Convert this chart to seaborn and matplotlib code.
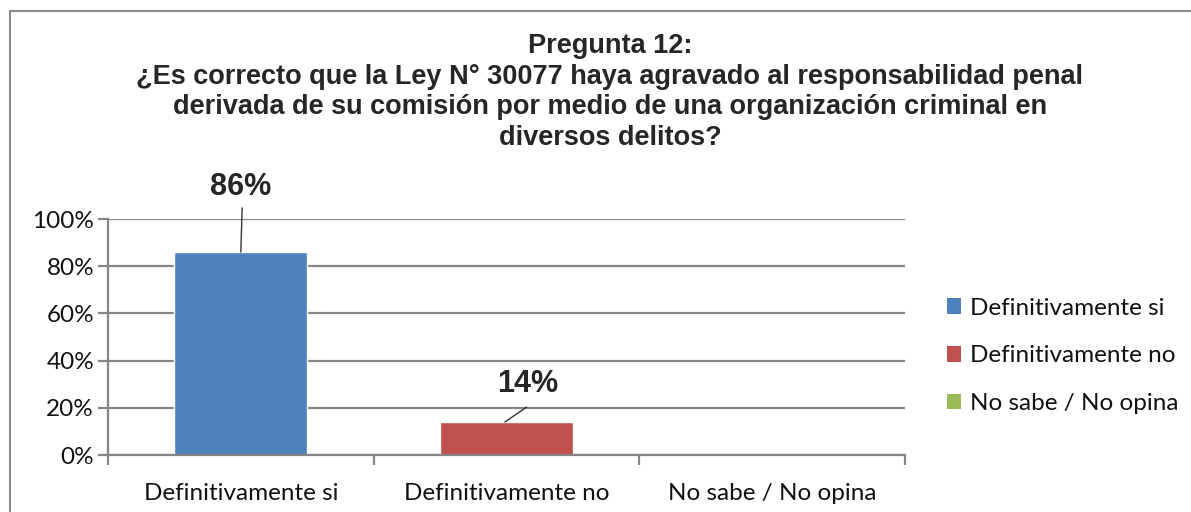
import matplotlib
matplotlib.use("Agg")
import matplotlib.pyplot as plt
import seaborn as sns
import pandas as pd
from matplotlib.lines import Line2D
from matplotlib.patches import Patch
from matplotlib.ticker import PercentFormatter

categories = ["Definitivamente si", "Definitivamente no", "No sabe / No opina"]
values = [0.86, 0.14, 0.0]
value_labels = ["86%", "14%", ""]
colors = ["#4F81BD", "#C0504D", "#9BBB59"]
yticks = [0, 0.2, 0.4, 0.6, 0.8, 1.0]
title = ("Pregunta 12:\n¿Es correcto que la Ley N° 30077 haya agravado al responsabilidad penal\n"
         "derivada de su comisión por medio de una organización criminal en\ndiversos delitos?")

sns.set_theme(style="white")
plt.rcParams["font.family"] = ["Lato", "DejaVu Sans"]

df = pd.DataFrame({"cat": categories, "val": values})

fig = plt.figure(figsize=(11.91, 5.12), dpi=100)
ax = fig.add_axes([108/1191, 1-455/512, (905-108)/1191, (455-219)/512])

sns.barplot(data=df, x="cat", y="val", hue="cat", palette=colors, width=0.5,
            dodge=False, legend=False, ax=ax, saturation=1)

ax.set_xlim(-0.5, 2.5)
ax.set_ylim(0, 1.0)
ax.set_yticks(yticks)
ax.yaxis.set_major_formatter(PercentFormatter(1.0, decimals=0))
ax.grid(axis="y", color="#868686", linewidth=1.6)
ax.set_axisbelow(True)
ax.set_xlabel("")
ax.set_ylabel("")
for s in ["top", "right"]:
    ax.spines[s].set_visible(False)
ax.spines["left"].set_color("#868686")
ax.spines["left"].set_linewidth(1.6)
ax.spines["bottom"].set_color("#868686")
ax.spines["bottom"].set_linewidth(1.6)
ax.tick_params(axis="y", length=7, width=1.6, color="#868686", labelsize=17.5,
               labelcolor="#111111", left=True, pad=3)
ax.tick_params(axis="x", which="major", length=0, labelsize=17.5,
               labelcolor="#111111", pad=20)
ax.set_xticks([-0.5, 0.5, 1.5, 2.5], minor=True)
ax.tick_params(axis="x", which="minor", length=7, width=1.6, color="#868686", bottom=True)

# data labels with leader lines
ax.text(0, 1.136, value_labels[0], ha="center", va="center", fontsize=22,
        fontweight="bold", family=["Liberation Sans"], clip_on=False)
ax.plot([0.005, 0.0], [1.047, values[0]], color="#333333", lw=1, clip_on=False)
ax.text(1.08, 0.30, value_labels[1], ha="center", va="center", fontsize=22,
        fontweight="bold", family=["Liberation Sans"], clip_on=False)
ax.plot([1.076, 0.994], [0.203, values[1]], color="#333333", lw=1, clip_on=False)

# legend
handles = [Patch(facecolor=c, edgecolor="none") for c in colors]
fig.legend(handles, categories, loc="center left", bbox_to_anchor=(925/1191, 1-356/512),
           frameon=False, fontsize=17.5, handlelength=0.6, handleheight=0.6,
           handletextpad=0.35, labelspacing=1.1, labelcolor="#111111")

fig.text(610/1191, 1-92/512, title, ha="center", va="center", fontsize=19.5,
         fontweight="bold", family=["Liberation Sans"], linespacing=1.22)

# outer frame
fig.add_artist(Line2D([10/1191, 1.0], [1-11/512, 1-11/512], color="#8c8c8c", lw=1.5,
                      transform=fig.transFigure))
fig.add_artist(Line2D([10/1191, 10/1191], [0, 1-11/512], color="#8c8c8c", lw=1.5,
                      transform=fig.transFigure))

fig.savefig("out.png", dpi=100, facecolor="white")
